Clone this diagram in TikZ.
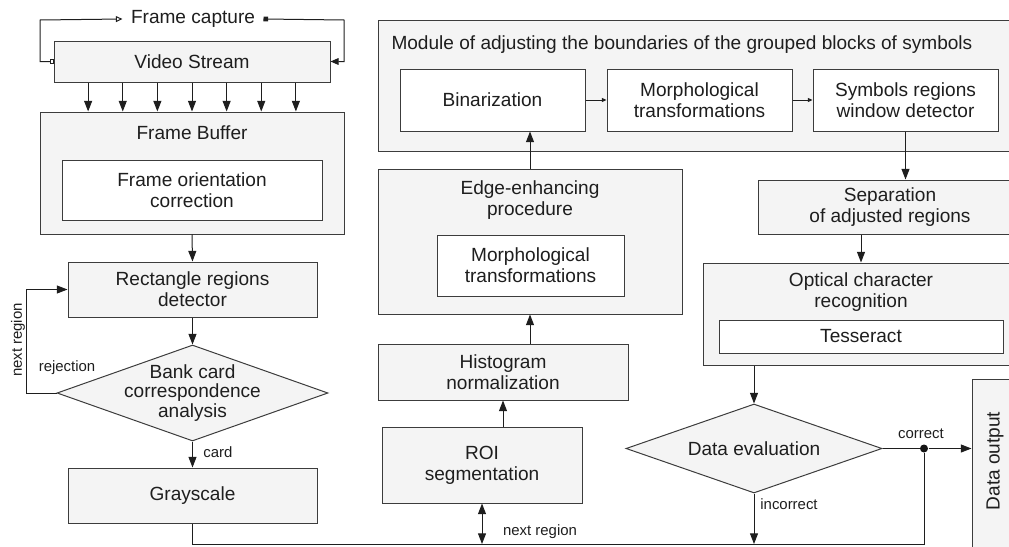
\documentclass[tikz,border=0pt]{standalone}
\usepackage{fontspec}
\setmainfont{Liberation Sans}
\usetikzlibrary{arrows.meta,shapes.geometric,calc}

\tikzset{every picture/.style={line width=0.75pt}}
\tikzset{
	gbox/.style={draw={rgb, 255:red, 60; green, 60; blue, 60 }, fill={rgb, 255:red, 244; green, 244; blue, 244 }, align=center, inner sep=0pt, text={rgb, 255:red, 30; green, 30; blue, 30 }, font=\fontsize{14.3}{16}\selectfont},
	wbox/.style={gbox, fill=white},
	dbox/.style={gbox, diamond},
	sz/.style 2 args={minimum width=#1*0.75pt, minimum height=#2*0.75pt},
	txt/.style={align=center, inner sep=0pt, text={rgb, 255:red, 30; green, 30; blue, 30 }, font=\fontsize{14.3}{16}\selectfont},
	lbl/.style={inner sep=0pt, text={rgb, 255:red, 30; green, 30; blue, 30 }, font=\fontsize{11.2}{13}\selectfont},
	ln/.style={draw={rgb, 255:red, 30; green, 30; blue, 30 }},
	arr/.style={ln, -{Triangle[length=8pt,width=6pt]}},
	arrs/.style={ln, -{Triangle[length=3.5pt,width=3pt]}},
}

\begin{document}
\begin{tikzpicture}[x=0.75pt,y=0.75pt,yscale=-1,xscale=1]
	\useasboundingbox (0,0) rectangle (1009,546);
	\clip (0,0) rectangle (1009,546);

	%Shape: Rectangle
	\node[gbox, sz={276}{41}] (video) at (192,61.5) {Video Stream};
	% Text Node
	\node[txt, inner xsep=6pt] (cap) at (193,19) {Frame capture};
	\coordinate (fl) at (40,20);
	\coordinate (fr) at (344,20);
	%Shape: Rectangle
	\node[gbox, sz={304}{122}] (buf) at (192,173) {};
	\node[txt] (bufT) at (192,133) {Frame Buffer};
	\node[wbox, sz={260}{60}] (orient) at (192,190) {Frame orientation\\correction};
	%Shape: Rectangle
	\node[gbox, sz={249}{55}] (rect) at (192.5,289.5) {Rectangle regions\\detector};
	%Shape: Diamond
	\node[dbox, sz={271}{96}] (bank) at (192.5,393) {};
	\node[txt, font=\fontsize{14.3}{14.5}\selectfont] (bankT) at (192.5,393) {Bank card\\correspondence\\analysis};
	%Shape: Rectangle
	\node[gbox, sz={249}{55}] (gray) at (192.5,495.5) {Grayscale};

	%Shape: Rectangle
	\node[gbox, sz={652}{131}] (module) at (704,85.5) {};
	\node[txt, anchor=west] (moduleT) at (391,45) {Module of adjusting the boundaries of the grouped blocks of symbols};
	\node[wbox, sz={185}{62}] (bin) at (492.5,100) {Binarization};
	\node[wbox, sz={185}{62}] (morph) at (699.5,100) {Morphological\\transformations};
	\node[wbox, sz={185}{62}] (sym) at (905.5,100) {Symbols regions\\window detector};
	%Shape: Rectangle
	\node[gbox, sz={304}{145}] (edge) at (530,241.5) {};
	\node[txt] (edgeT) at (530,200) {Edge-enhancing\\procedure};
	\node[wbox, sz={187}{61}] (emorph) at (530.5,265.5) {Morphological\\transformations};
	%Shape: Rectangle
	\node[gbox, sz={250}{56}] (hist) at (503,372) {Histogram\\normalization};
	\node[gbox, sz={200}{76}] (roi) at (482,465) {ROI\\segmentation};

	%Shape: Rectangle
	\node[gbox, sz={264}{54}] (sep) at (890,207) {Separation\\of adjusted regions};
	\node[gbox, sz={316}{102}] (ocr) at (861,314) {};
	\node[txt] (ocrT) at (861,292) {Optical character\\recognition};
	\node[wbox, sz={284}{33}] (tess) at (861,336.5) {Tesseract};
	%Shape: Diamond
	\node[dbox, sz={256}{89}] (eval) at (754,448.5) {};
	\node[txt] (evalT) at (754,448.5) {Data evaluation};
	%Shape: Rectangle
	\node[gbox, sz={48}{191}] (out) at (996,474.5) {};
	\node[txt, rotate=90] (outT) at (995,461) {Data output};
	%Shape: Circle
	\node[circle, fill={rgb, 255:red, 20; green, 20; blue, 20 }, inner sep=0pt, minimum size=6pt] (dot) at (924,448.5) {};
	\coordinate (lx) at (26,393);
	\coordinate (bus) at (924,544);

	% Connectors
	\draw[ln, {Square[open,length=3pt,width=3.5pt]}-{Triangle[open,length=5pt,width=4.5pt]}] (video.west) -| (fl) -- (cap.west);
	\draw[ln, {Square[length=3.5pt,width=3.5pt]}-{Triangle[length=6pt,width=5pt]}] (cap.east) -- (fr) |- (video.east);
	\foreach \i in {1,...,7} {
		\coordinate (vs\i) at ($(video.south west)!\i/8!(video.south east)$);
		\draw[arr] (vs\i) -- (vs\i |- buf.north);
	}
	\draw[arr] (buf.south) -- (rect.north);
	\draw[arr] (rect.south) -- (bank.north);
	\draw[arr] (bank.west) -- (lx) |- (rect.west);
	\draw[arr] (bank.south) -- (gray.north);
	\draw[ln] (gray.south) |- (bus) -- (dot);

	\draw[ln, {Triangle[length=8pt,width=6pt]}-{Triangle[length=8pt,width=6pt]}] (roi.south) -- (roi.south |- bus);
	\draw[arr] (hist.south |- roi.north) -- (hist.south);
	\draw[arr] (edge.south |- hist.north) -- (edge.south);
	\draw[arr] (edge.north) -- (edge.north |- bin.south);
	\draw[arrs] (bin.east) -- (morph.west);
	\draw[arrs] (morph.east) -- (sym.west);
	\draw[arr] (sym.south) -- (sym.south |- sep.north);
	\draw[arr] (ocr.north |- sep.south) -- (ocr.north);
	\draw[arr] (eval.north |- ocr.south) -- (eval.north);
	\draw[arr] (eval.south) -- (eval.south |- bus);
	\draw[ln] (eval.east) -- (dot);
	\draw[arr] (dot) -- (dot -| out.west);

	% Text Node
	\node[lbl] (capLbl) at (18,340) [rotate=90] {next region};
	\node[lbl] (rejLbl) at (67,368) {rejection};
	\node[lbl] (cardLbl) at (218,452) {card};
	\node[lbl] (nextLbl) at (540,532) {next region};
	\node[lbl] (incLbl) at (789,504) {incorrect};
	\node[lbl] (corLbl) at (921,434) {correct};
\end{tikzpicture}
\end{document}
